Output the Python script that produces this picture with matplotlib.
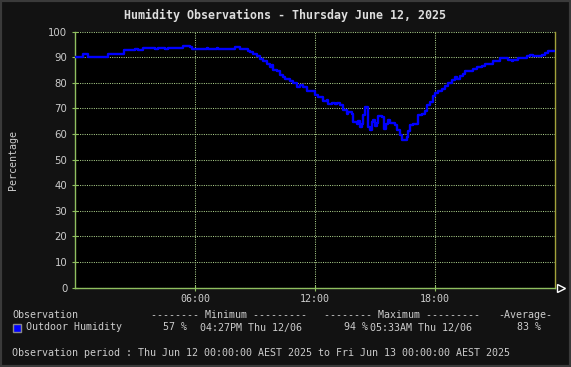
import matplotlib
matplotlib.use("Agg")
import matplotlib.pyplot as plt
from matplotlib.patches import Rectangle

# step data: hour of day -> humidity (%)
hours = [0.0, 0.38, 0.67, 1.67, 2.47, 3.0, 3.17, 3.42, 4.0, 4.17, 4.5, 4.67, 5.42, 5.75, 5.83,
         6.58, 6.67, 7.08, 7.17, 8.0, 8.25, 8.67, 8.75, 8.92, 9.08, 9.25, 9.42, 9.58, 9.75,
         9.83, 9.92, 10.08, 10.25, 10.42, 10.5, 10.75, 10.92, 11.08, 11.25, 11.42, 11.58,
         12.0, 12.17, 12.42, 12.58, 12.67, 12.83, 13.0, 13.08, 13.25, 13.42, 13.58, 13.67,
         13.83, 13.92, 14.08, 14.17, 14.25, 14.33, 14.42, 14.5, 14.67, 14.75, 14.83, 14.92,
         15.0, 15.08, 15.17, 15.33, 15.45, 15.55, 15.67, 15.75, 16.0, 16.12, 16.25, 16.33,
         16.58, 16.67, 16.75, 16.92, 17.17, 17.33, 17.5, 17.58, 17.75, 17.92, 18.0, 18.17,
         18.33, 18.5, 18.67, 18.83, 19.0, 19.08, 19.25, 19.42, 19.5, 19.92, 20.08, 20.33,
         20.5, 20.92, 21.25, 21.67, 21.83, 21.92, 22.0, 22.17, 22.58, 22.75, 22.92, 23.33,
         23.5, 23.67, 24.0]
humidity = [90.1, 91.4, 90.1, 91.4, 92.7, 93.2, 92.7, 93.4, 93.0, 93.4, 93.0, 93.4, 94.5, 93.9, 93.2,
            93.7, 93.2, 93.7, 93.2, 94.0, 93.2, 92.5, 91.8, 91.2, 90.4, 89.3, 88.5, 87.3, 86.1,
            87.0, 85.0, 84.4, 83.1, 82.2, 81.4, 80.5, 79.8, 78.5, 79.2, 78.5, 76.6,
            75.1, 74.4, 72.8, 73.4, 71.8, 72.0, 71.5, 72.2, 71.2, 69.2, 67.9, 68.6,
            67.9, 64.6, 64.0, 65.0, 62.7, 64.0, 67.2, 70.7, 62.7, 61.6, 64.6, 65.5,
            63.0, 64.3, 66.8, 66.5, 62.0, 64.0, 65.5, 64.3, 63.4, 61.6, 59.4, 57.7,
            58.7, 61.3, 63.4, 64.0, 67.2, 67.9, 68.9, 71.1, 72.3, 74.9, 75.9, 76.6,
            77.5, 78.8, 79.8, 80.9, 82.4, 81.6, 82.7, 83.4, 84.4, 85.5, 86.3, 86.6,
            87.5, 88.3, 89.5, 89.0, 88.3, 89.0, 88.8, 89.6, 90.3, 90.9, 90.3, 90.9,
            91.6, 92.5, 92.5]

y_ticks = list(range(0, 101, 10))
x_ticks = [6, 12, 18]
x_labels = ["06:00", "12:00", "18:00"]

W, H = 571, 367
bg = "#121212"
txt = "#cccccc"
axis_col = "#8fbf5f"
grid_col = "#a8cc88"
mono = "DejaVu Sans Mono"
fs = 7.2


def fx(px):
    return px / W


def fy(py):
    return 1 - py / H


fig = plt.figure(figsize=(W / 100, H / 100), dpi=100, facecolor=bg)
fig.patches.append(Rectangle((0, 0), 1, 1, transform=fig.transFigure, fill=False,
                             edgecolor="#3a3a3a", linewidth=3))

left, right, top, bottom = 75, 555, 31.5, 287.5
ax = fig.add_axes([fx(left), fy(bottom), (right - left) / W, (bottom - top) / H])
ax.set_facecolor("black")

ax.plot(hours, humidity, drawstyle="steps-post", color="#0000ff", linewidth=1.7, zorder=3)

ax.set_xlim(0, 24)
ax.set_ylim(0, 100)
ax.set_yticks(y_ticks)
ax.set_xticks(x_ticks)
ax.set_xticklabels(x_labels, fontfamily=mono, fontsize=fs, color=txt)
ax.tick_params(axis="y", colors=axis_col, labelcolor=txt, labelsize=7.3, direction="inout",
               length=5, width=0.8, pad=3)
ax.tick_params(axis="x", colors=axis_col, labelcolor=txt, direction="inout", length=4,
               width=0.8, pad=3)
ax.grid(True, color=grid_col, linestyle=(0, (1, 1.2)), linewidth=0.75)
ax.set_axisbelow(True)

ax.spines["top"].set_visible(False)
ax.spines["left"].set_color(axis_col)
ax.spines["bottom"].set_color(axis_col)
ax.spines["right"].set_color("#a3a33a")
for s in ["left", "bottom", "right"]:
    ax.spines[s].set_linewidth(1)

# arrow at the end of the x axis
ax.plot([1.012], [0], marker=">", markersize=6, markerfacecolor="none",
        markeredgecolor="white", markeredgewidth=1, transform=ax.transAxes, clip_on=False)

fig.text(fx(285.5), fy(15.5), "Humidity Observations - Thursday June 12, 2025",
         ha="center", va="center", fontfamily=mono, fontweight="bold", fontsize=8.4,
         color="#dddddd")
fig.text(fx(13), fy(160), "Percentage", rotation=90, ha="center", va="center",
         fontfamily=mono, fontsize=fs, color=txt)

# legend block
row1, row2, row3 = 314.5, 327.5, 353
fig.text(fx(12), fy(row1), "Observation", va="center", fontfamily=mono, fontsize=fs, color=txt)
fig.text(fx(151), fy(row1), "-------- Minimum ---------", va="center", fontfamily=mono,
         fontsize=fs, color=txt)
fig.text(fx(324), fy(row1), "-------- Maximum ---------", va="center", fontfamily=mono,
         fontsize=fs, color=txt)
fig.text(fx(498), fy(row1), "-Average-", va="center", fontfamily=mono, fontsize=fs, color=txt)

fig.patches.append(Rectangle((fx(12.5), fy(331.5)), 8 / W, 8 / H, transform=fig.transFigure,
                             facecolor="#0000ff", edgecolor="#888888", linewidth=1))
fig.text(fx(26), fy(row2), "Outdoor Humidity", va="center", fontfamily=mono, fontsize=fs, color=txt)
fig.text(fx(163), fy(row2), "57 %", va="center", fontfamily=mono, fontsize=fs, color=txt)
fig.text(fx(199.5), fy(row2), "04:27PM Thu 12/06", va="center", fontfamily=mono, fontsize=fs, color=txt)
fig.text(fx(343.5), fy(row2), "94 %", va="center", fontfamily=mono, fontsize=fs, color=txt)
fig.text(fx(369.5), fy(row2), "05:33AM Thu 12/06", va="center", fontfamily=mono, fontsize=fs, color=txt)
fig.text(fx(517), fy(row2), "83 %", va="center", fontfamily=mono, fontsize=fs, color=txt)

fig.text(fx(12), fy(row3),
         "Observation period : Thu Jun 12 00:00:00 AEST 2025 to Fri Jun 13 00:00:00 AEST 2025",
         va="center", fontfamily=mono, fontsize=fs, color=txt)

fig.savefig("out.png", dpi=100, facecolor=bg)
